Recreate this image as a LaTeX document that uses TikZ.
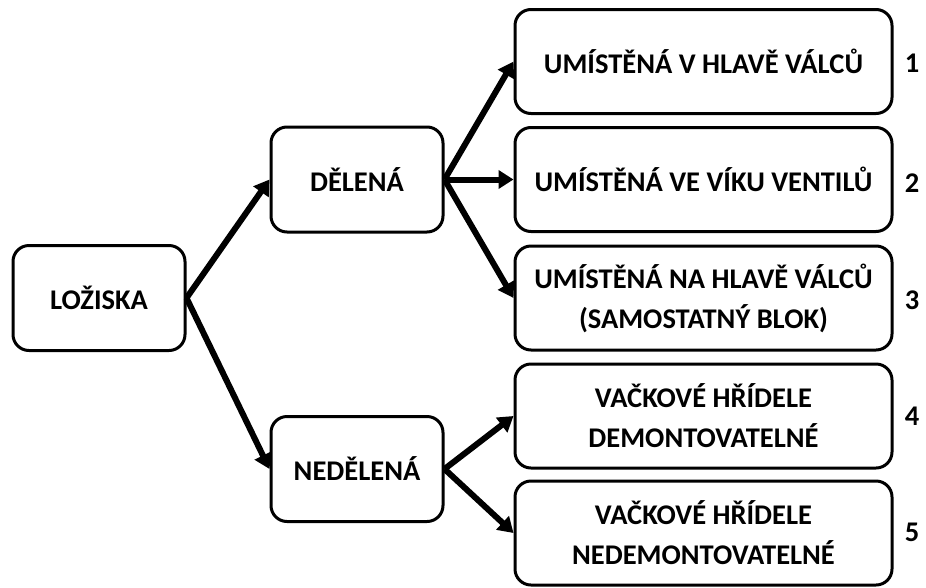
\documentclass[tikz,border=0pt]{standalone}
\usepackage{fontspec}
\setmainfont{Carlito}
\usetikzlibrary{arrows.meta}
\begin{document}
\begin{tikzpicture}[x=1pt,y=-1pt,
 box/.style={draw=black, line width=3pt, rounded corners=16pt, fill=white, align=center,
   font=\bfseries\fontsize{28.5}{40}\selectfont, inner sep=0pt},
 small/.style={box, minimum width=172pt, minimum height=105pt},
 wide/.style={box, minimum width=377pt, minimum height=104pt},
 conn/.style={line width=6pt, -{Triangle[length=15pt,width=18pt]}},
 num/.style={font=\bfseries\fontsize{28.5}{32}\selectfont, inner sep=0pt}]
\useasboundingbox (0,0) rectangle (926,587);
\node[small] (lo) at (99,298) {LOŽISKA};
\node[small] (de) at (357,179.5) {DĚLENÁ};
\node[small] (ne) at (357,469) {NEDĚLENÁ};
\node[wide] (r1) at (703.5,61.5) {UMÍSTĚNÁ V HLAVĚ VÁLCŮ};
\node[wide] (r2) at (703.5,179.5) {UMÍSTĚNÁ VE VÍKU VENTILŮ};
\node[wide] (r3) at (703.5,298) {UMÍSTĚNÁ NA HLAVĚ VÁLCŮ\\(SAMOSTATNÝ BLOK)};
\node[wide] (r4) at (703.5,416) {VAČKOVÉ HŘÍDELE\\DEMONTOVATELNÉ};
\node[wide] (r5) at (703.5,533) {VAČKOVÉ HŘÍDELE\\NEDEMONTOVATELNÉ};
\node[num] (n1) at (912,63) {1};
\node[num] (n2) at (912,183) {2};
\node[num] (n3) at (912,300) {3};
\node[num] (n4) at (912,416) {4};
\node[num] (n5) at (912,532) {5};
\draw[conn] (lo.east) -- (de.west);
\draw[conn] (lo.east) -- (ne.west);
\draw[conn] (de.east) -- (r1.west);
\draw[conn] (de.east) -- (r2.west);
\draw[conn] (de.east) -- (r3.west);
\draw[conn] (ne.east) -- (r4.west);
\draw[conn] (ne.east) -- (r5.west);
\end{tikzpicture}
\end{document}
